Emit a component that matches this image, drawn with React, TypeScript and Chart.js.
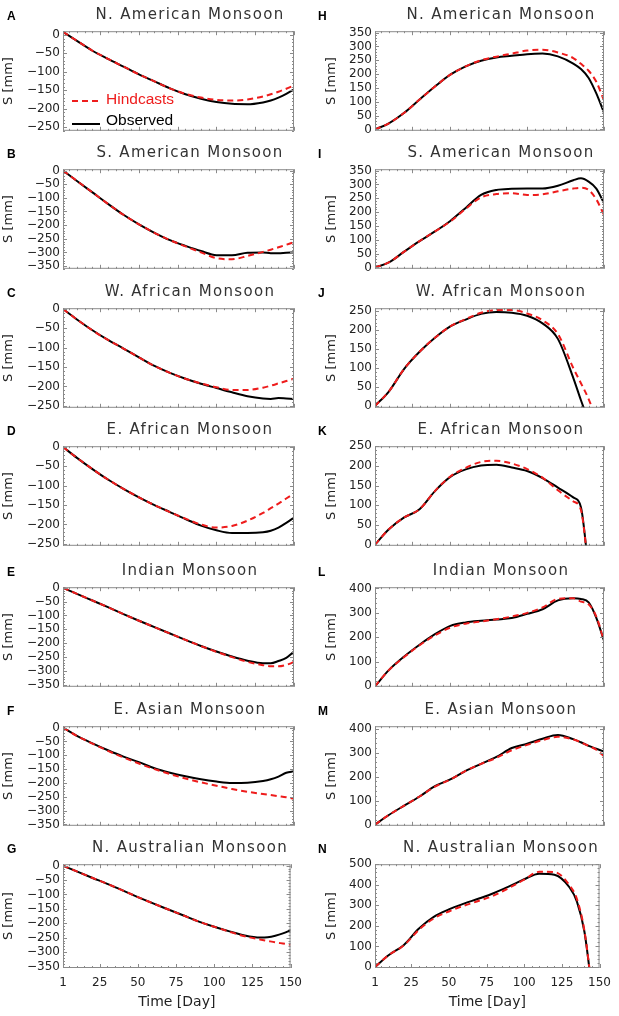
import { useEffect, useRef } from "react";
import { Chart, registerables } from "chart.js";

Chart.register(...registerables);

// sample days shared by every series
const days = [1, 10, 20, 30, 40, 50, 60, 70, 80, 90, 100, 110, 120, 130, 135, 140, 145, 150];
const dayTicks = [1, 25, 50, 75, 100, 125, 150];

// left column (A-G)
const obsA = [8, -16, -43, -65, -86, -107, -126, -145, -161, -173, -182, -187, -188, -183, -178, -170, -160, -148];
const hindA = [8, -16, -43, -65, -86, -107, -126, -145, -160, -170, -176, -178, -175, -167, -161, -154, -146, -137];
const obsB = [0, -38, -80, -122, -162, -197, -228, -255, -276, -295, -310, -310, -301, -300, -303, -303, -301, -300];
const hindB = [0, -38, -80, -122, -162, -197, -228, -255, -278, -300, -321, -325, -313, -298, -290, -281, -272, -262];
const obsC = [0, -27, -55, -80, -102, -125, -147, -165, -180, -193, -204, -215, -225, -231, -232, -230, -231, -232];
const hindC = [0, -27, -55, -80, -102, -125, -147, -165, -180, -192, -202, -209, -209, -203, -198, -192, -186, -180];
const obsD = [0, -28, -57, -84, -108, -130, -150, -168, -186, -203, -215, -222, -222, -220, -216, -208, -196, -182];
const hindD = [0, -28, -57, -84, -108, -130, -150, -168, -185, -200, -208, -204, -190, -170, -158, -146, -133, -120];
const obsE = [0, -22, -46, -70, -95, -119, -142, -165, -188, -210, -230, -248, -263, -272, -272, -264, -253, -230];
const hindE = [0, -22, -46, -70, -95, -119, -142, -165, -188, -210, -231, -250, -267, -279, -283, -283, -278, -268];
const obsF = [0, -30, -57, -82, -105, -125, -147, -163, -176, -187, -195, -200, -199, -193, -187, -177, -163, -158];
const hindF = [0, -30, -58, -84, -108, -130, -150, -168, -184, -198, -210, -222, -232, -240, -244, -248, -252, -257];
const obsG = [0, -20, -42, -63, -86, -109, -131, -152, -173, -194, -212, -228, -242, -249, -248, -243, -235, -224];
const hindG = [0, -20, -42, -63, -86, -109, -131, -152, -173, -194, -212, -229, -245, -256, -261, -266, -270, -274];

// right column (H-N)
const obsH = [0, 22, 60, 108, 155, 198, 228, 248, 260, 266, 272, 274, 264, 238, 218, 186, 130, 60];
const hindH = [0, 22, 60, 108, 155, 198, 228, 250, 263, 274, 285, 288, 278, 258, 237, 212, 172, 105];
const obsI = [0, 18, 57, 95, 130, 168, 215, 262, 280, 284, 285, 285, 295, 315, 322, 310, 285, 232];
const hindI = [0, 18, 57, 95, 130, 166, 212, 253, 265, 268, 262, 264, 275, 285, 288, 280, 246, 190];
const obsJ = [0, 38, 98, 143, 180, 210, 228, 243, 248, 246, 238, 218, 177, 74, 15, -40, -100, -160];
const hindJ = [0, 38, 98, 143, 180, 210, 229, 246, 253, 253, 244, 226, 190, 100, 60, 18, -35, -90];
const obsK = [0, 39, 69, 90, 136, 172, 191, 201, 203, 196, 187, 169, 145, 120, 95, -63, -200, -300];
const hindK = [0, 39, 69, 90, 136, 173, 195, 210, 213, 206, 192, 170, 138, 110, 88, -63, -200, -300];
const obsL = [0, 66, 122, 170, 213, 247, 261, 268, 273, 279, 296, 315, 351, 360, 357, 343, 280, 186];
const hindL = [0, 66, 120, 168, 208, 240, 256, 265, 274, 285, 300, 322, 357, 360, 346, 335, 285, 186];
const obsM = [0, 40, 79, 117, 160, 188, 224, 253, 282, 319, 337, 358, 373, 356, 343, 328, 316, 304];
const hindM = [0, 40, 79, 117, 158, 188, 224, 253, 278, 310, 332, 352, 366, 355, 343, 328, 312, 285];
const obsN = [0, 57, 106, 186, 244, 280, 308, 333, 360, 392, 427, 454, 449, 388, 318, 170, -113, -400];
const hindN = [0, 57, 104, 180, 236, 270, 298, 322, 348, 385, 425, 463, 462, 398, 330, 175, -110, -400];

const RED = "#ee1c1c";
const SANS = "'DejaVu Sans', sans-serif";

interface PanelSpec {
  letter: string;
  title: string;
  obs: number[];
  hind: number[];
  yMin: number;
  yMax: number;
  yStep: number;
  col: number;
  row: number;
}

const panels: PanelSpec[] = [
  { letter: "A", title: "N. American Monsoon", obs: obsA, hind: hindA, yMin: -260, yMax: 10, yStep: 50, col: 0, row: 0 },
  { letter: "B", title: "S. American Monsoon", obs: obsB, hind: hindB, yMin: -360, yMax: 5, yStep: 50, col: 0, row: 1 },
  { letter: "C", title: "W. African Monsoon", obs: obsC, hind: hindC, yMin: -255, yMax: 2, yStep: 50, col: 0, row: 2 },
  { letter: "D", title: "E. African Monsoon", obs: obsD, hind: hindD, yMin: -255, yMax: 2, yStep: 50, col: 0, row: 3 },
  { letter: "E", title: "Indian Monsoon", obs: obsE, hind: hindE, yMin: -357, yMax: 2, yStep: 50, col: 0, row: 4 },
  { letter: "F", title: "E. Asian Monsoon", obs: obsF, hind: hindF, yMin: -355, yMax: 5, yStep: 50, col: 0, row: 5 },
  { letter: "G", title: "N. Australian Monsoon", obs: obsG, hind: hindG, yMin: -355, yMax: 5, yStep: 50, col: 0, row: 6 },
  { letter: "H", title: "N. American Monsoon", obs: obsH, hind: hindH, yMin: -5, yMax: 355, yStep: 50, col: 1, row: 0 },
  { letter: "I", title: "S. American Monsoon", obs: obsI, hind: hindI, yMin: -5, yMax: 355, yStep: 50, col: 1, row: 1 },
  { letter: "J", title: "W. African Monsoon", obs: obsJ, hind: hindJ, yMin: -5, yMax: 258, yStep: 50, col: 1, row: 2 },
  { letter: "K", title: "E. African Monsoon", obs: obsK, hind: hindK, yMin: -3, yMax: 250, yStep: 50, col: 1, row: 3 },
  { letter: "L", title: "Indian Monsoon", obs: obsL, hind: hindL, yMin: -2, yMax: 405, yStep: 100, col: 1, row: 4 },
  { letter: "M", title: "E. Asian Monsoon", obs: obsM, hind: hindM, yMin: -5, yMax: 410, yStep: 100, col: 1, row: 5 },
  { letter: "N", title: "N. Australian Monsoon", obs: obsN, hind: hindN, yMin: -5, yMax: 500, yStep: 100, col: 1, row: 6 },
];

// page layout
const colLeft = [0, 310];
const colWidth = [310, 309];
const axisWidth = [63, 65];
const yTitlePad = [1, 14];
const titleCenter = [190, 501];
const letterLeft = [7, 318];
const boxRight = 294;
const rowTop = [27, 165, 304, 442, 583, 722, 860];
const boxH = 108;
const pad = 6;
const pageH = 1016;

// IDL-like box with inward ticks on all four sides
function makeFrame(yStep: number) {
  return {
    id: "frameTicks",
    afterDatasetsDraw(chart: any) {
      const ctx = chart.ctx;
      const { left, right, top, bottom } = chart.chartArea;
      const xs = chart.scales.x;
      const ys = chart.scales.y;
      ctx.save();
      ctx.setLineDash([]);
      ctx.strokeStyle = "#8a8a8a";
      ctx.lineWidth = 1;
      ctx.strokeRect(left + 0.5, top + 0.5, right - left - 1, bottom - top - 1);
      ctx.beginPath();
      const xMark = (d: number, len: number) => {
        const px = Math.round(xs.getPixelForValue(d)) + 0.5;
        ctx.moveTo(px, bottom);
        ctx.lineTo(px, bottom - len);
        ctx.moveTo(px, top);
        ctx.lineTo(px, top + len);
      };
      for (let d = 5; d < 150; d += 5) xMark(d, 2);
      dayTicks.forEach((d) => xMark(d, 4));
      const minor = yStep / 5;
      const start = Math.ceil(ys.min / minor) * minor;
      for (let v = start; v <= ys.max; v += minor) {
        const len = Math.abs(v % yStep) < 1e-6 ? 4 : 2;
        const py = Math.round(ys.getPixelForValue(v)) + 0.5;
        ctx.moveTo(left, py);
        ctx.lineTo(left + len, py);
        ctx.moveTo(right, py);
        ctx.lineTo(right - len, py);
      }
      ctx.stroke();
      ctx.restore();
    },
  };
}

function fmt(v: number) {
  return v < 0 ? "\u2212" + Math.abs(v) : String(Math.abs(v));
}

function Panel({ p }: { p: PanelSpec }) {
  const canvasRef = useRef<HTMLCanvasElement>(null);
  const bottomRow = p.row === 6;
  const top = rowTop[p.row] - pad;
  const height = bottomRow ? pageH - top : boxH + pad * 2;

  useEffect(() => {
    if (!canvasRef.current) return;
    const chart = new Chart(canvasRef.current, {
      type: "line",
      data: {
        datasets: [
          {
            label: "Hindcasts",
            data: days.map((d, i) => ({ x: d, y: p.hind[i] })),
            borderColor: RED,
            borderWidth: 2,
            borderDash: [6, 4],
            pointRadius: 0,
            cubicInterpolationMode: "monotone",
          },
          {
            label: "Observed",
            data: days.map((d, i) => ({ x: d, y: p.obs[i] })),
            borderColor: "#000",
            borderWidth: 2,
            pointRadius: 0,
            cubicInterpolationMode: "monotone",
          },
        ],
      },
      options: {
        animation: false,
        responsive: true,
        maintainAspectRatio: false,
        layout: {
          autoPadding: false,
          padding: { left: 0, right: colWidth[p.col] - boxRight, top: pad, bottom: bottomRow ? 0 : pad },
        },
        plugins: {
          legend: { display: false },
          tooltip: { enabled: false },
        },
        scales: {
          x: {
            type: "linear",
            min: 1,
            max: 150,
            display: bottomRow,
            grid: { display: false, drawTicks: false },
            border: { display: false },
            afterBuildTicks: (axis: any) => {
              axis.ticks = dayTicks.map((v) => ({ value: v }));
            },
            afterFit: (axis: any) => {
              if (bottomRow) axis.height = pageH - (rowTop[6] + boxH);
            },
            ticks: {
              autoSkip: false,
              maxRotation: 0,
              padding: 8,
              color: "#222",
              font: { family: SANS, size: 12 },
            },
            title: {
              display: true,
              text: "Time [Day]",
              color: "#222",
              font: { family: SANS, size: 14 },
              padding: { top: 0, bottom: 5 },
            },
          },
          y: {
            type: "linear",
            min: p.yMin,
            max: p.yMax,
            grid: { display: false, drawTicks: false },
            border: { display: false },
            afterBuildTicks: (axis: any) => {
              const vals = [];
              for (let v = Math.ceil(p.yMin / p.yStep) * p.yStep; v <= p.yMax; v += p.yStep) {
                vals.push({ value: v });
              }
              axis.ticks = vals;
            },
            afterFit: (axis: any) => {
              axis.width = axisWidth[p.col];
            },
            ticks: {
              autoSkip: false,
              padding: 3,
              color: "#222",
              font: { family: SANS, size: 12 },
              callback: (v: any) => fmt(Number(v)),
            },
            title: {
              display: true,
              text: "S [mm]",
              color: "#222",
              font: { family: SANS, size: 13 },
              padding: { top: yTitlePad[p.col], bottom: 0 },
            },
          },
        } as any,
      },
      plugins: [makeFrame(p.yStep)],
    } as any);
    return () => chart.destroy();
  }, [p]);

  return (
    <>
      <div
        style={{
          position: "absolute",
          left: colLeft[p.col],
          top,
          width: colWidth[p.col],
          height,
        }}
      >
        <canvas ref={canvasRef} />
      </div>
      <div
        style={{
          position: "absolute",
          left: titleCenter[p.col] - 150,
          width: 300,
          top: rowTop[p.row] - 22,
          lineHeight: "18px",
          textAlign: "center",
          fontFamily: SANS,
          fontSize: 15,
          letterSpacing: "1.3px",
          color: "#333",
        }}
      >
        {p.title}
      </div>
      <div
        style={{
          position: "absolute",
          left: letterLeft[p.col],
          top: rowTop[p.row] - 18,
          lineHeight: "14px",
          fontFamily: "'Liberation Sans', Arial, sans-serif",
          fontWeight: "bold",
          fontSize: 12,
          color: "#000",
        }}
      >
        {p.letter}
      </div>
    </>
  );
}

function Legend() {
  const text = {
    position: "absolute" as const,
    left: 106,
    lineHeight: "18px",
    fontFamily: "'Liberation Sans', Arial, sans-serif",
    fontSize: 15.5,
  };
  return (
    <>
      <svg style={{ position: "absolute", left: 72, top: 96, width: 30, height: 10 }}>
        <line x1={0} y1={5} x2={28} y2={5} stroke={RED} strokeWidth={2} strokeDasharray="6 4" />
      </svg>
      <div style={{ ...text, top: 90, color: RED }}>Hindcasts</div>
      <svg style={{ position: "absolute", left: 72, top: 119, width: 30, height: 10 }}>
        <line x1={0} y1={5} x2={28} y2={5} stroke="#000" strokeWidth={2} />
      </svg>
      <div style={{ ...text, top: 111, color: "#000" }}>Observed</div>
    </>
  );
}

export default function App() {
  return (
    <div
      style={{
        position: "absolute",
        left: 0,
        top: 0,
        width: 619,
        height: pageH,
        background: "#fff",
        overflow: "hidden",
      }}
    >
      {panels.map((p) => (
        <Panel key={p.letter} p={p} />
      ))}
      <Legend />
    </div>
  );
}
